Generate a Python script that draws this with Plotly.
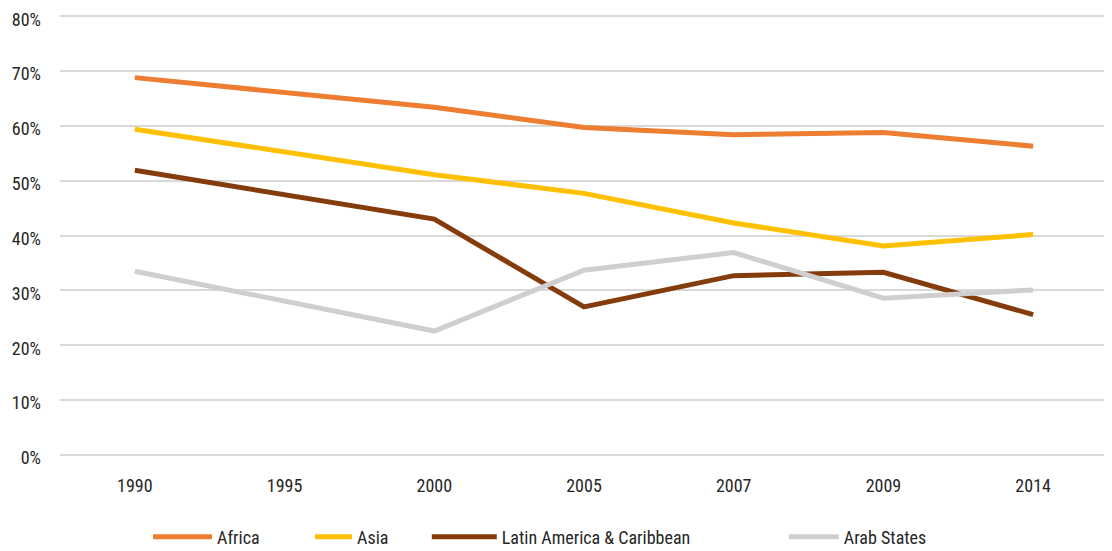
import plotly.graph_objects as go

years = ["1990", "1995", "2000", "2005", "2007", "2009", "2014"]
africa = [68.8, None, 63.4, 59.7, 58.4, 58.8, 56.3]
asia = [59.4, None, 51.1, 47.7, 42.3, 38.1, 40.2]
latam = [51.9, None, 43.0, 27.0, 32.7, 33.3, 25.6]
arab = [33.5, None, 22.6, 33.7, 36.9, 28.6, 30.1]
y_ticks = [0, 10, 20, 30, 40, 50, 60, 70, 80]
y_labels = [f"{v}%" for v in y_ticks]

series = [
    ("Africa", africa, "#ED7D31", "legend", 0.0840, 59),
    ("Asia", asia, "#FFC000", "legend2", 0.2386, 37),
    ("Latin America & Caribbean", latam, "#843C0C", "legend3", 0.3500, 65),
    ("Arab States", arab, "#D0CECE", "legend4", 0.6907, 50),
]

FONT = "Roboto Condensed, Liberation Sans Narrow, Arial Narrow, Roboto, sans-serif"

fig = go.Figure()
for name, vals, color, leg, _, _ in series:
    fig.add_trace(go.Scatter(
        x=years, y=vals, name=name, mode="lines",
        line=dict(color=color, width=5),
        connectgaps=True, legend=leg,
    ))

# plot area ~441 px tall; legend centred 82 px under it
layout_legends = {}
for name, vals, color, leg, xpos, iw in series:
    layout_legends[leg] = dict(
        orientation="h", x=xpos, xanchor="left", y=-0.186, yanchor="middle",
        font=dict(family=FONT, size=18, color="#262626"),
        bgcolor="rgba(0,0,0,0)", itemwidth=iw,
    )

# page body has an 8px default margin, so the figure is sized to fit inside it
fig.update_layout(
    width=1104, height=543,
    margin=dict(l=52, r=4, t=5.8, b=96, autoexpand=False),
    paper_bgcolor="white", plot_bgcolor="white",
    font=dict(family=FONT, size=18, color="#262626"),
    showlegend=True,
    xaxis=dict(
        type="category", range=[-0.5, 6.5], showgrid=False, zeroline=False,
        showline=False, ticks="", ticklabelstandoff=18, automargin=False,
        tickfont=dict(family=FONT, size=18, color="#262626"),
    ),
    yaxis=dict(
        range=[0, 80.4], tickvals=y_ticks, ticktext=y_labels,
        showgrid=True, gridcolor="#D9D9D9", gridwidth=1.5,
        zeroline=True, zerolinecolor="#D9D9D9", zerolinewidth=1.5,
        showline=False, ticks="", ticklabelstandoff=18, automargin=False,
        ticklabeloverflow="allow", ticklabelshift=3,
        tickfont=dict(family=FONT, size=18, color="#262626"),
    ),
    **layout_legends,
)

fig.write_html("out.html")
